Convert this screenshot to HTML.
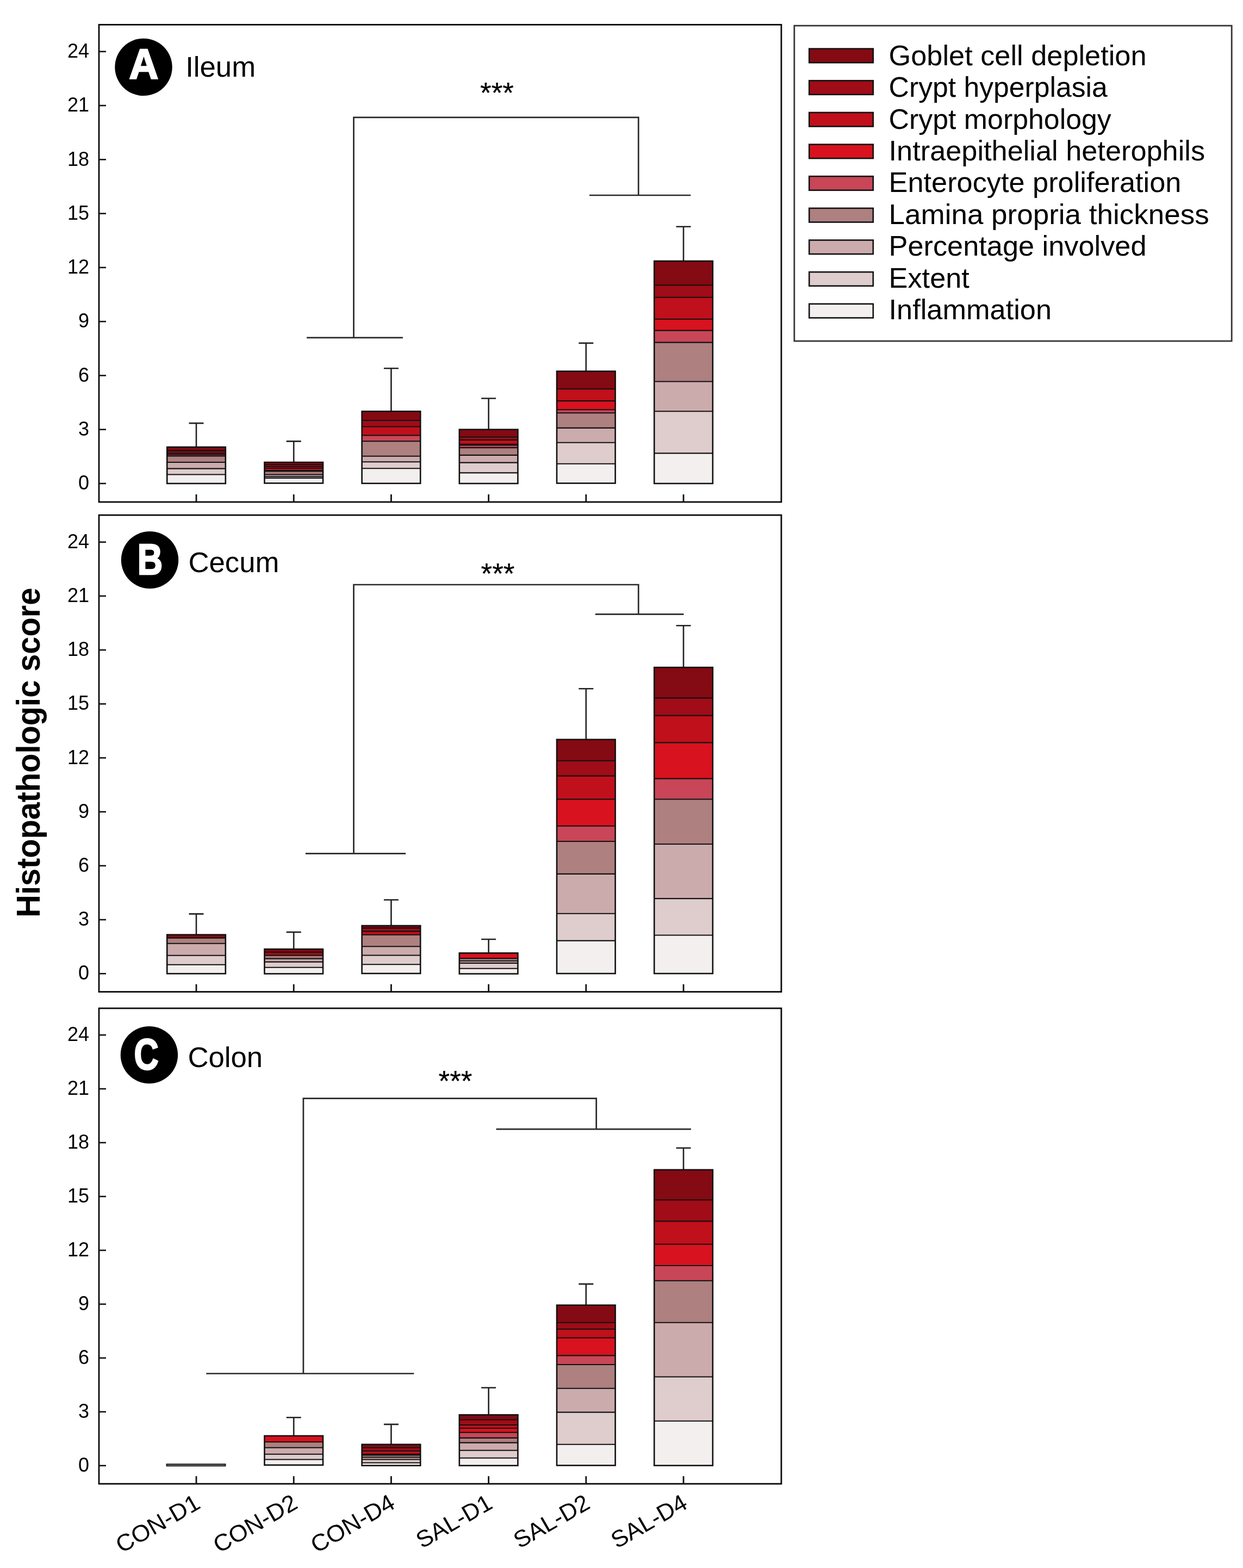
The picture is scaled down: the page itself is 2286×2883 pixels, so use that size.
<!DOCTYPE html>
<html lang="en"><head><meta charset="utf-8"><title>Histopathologic score</title>
<style>html,body{margin:0;padding:0;background:#fff;}body{width:2286px;height:2883px;overflow:hidden;}svg{display:block;}text{font-family:"Liberation Sans", Arial, sans-serif;}</style>
</head><body>
<svg width="2286" height="2883" viewBox="0 0 2286 2883">
<rect x="0" y="0" width="2286" height="2883" fill="#fff"/>
<g>
<path d="M361 822V778.1M347.5 778.1H374.5" stroke="#222" stroke-width="2.6" fill="none"/>
<rect x="307.2" y="872.5" width="107.6" height="16.5" fill="#f4efef"/>
<rect x="307.2" y="861.6" width="107.6" height="10.9" fill="#dfcccd"/>
<rect x="307.2" y="850" width="107.6" height="11.6" fill="#ccabac"/>
<rect x="307.2" y="838.4" width="107.6" height="11.6" fill="#ae8080"/>
<rect x="307.2" y="835.4" width="107.6" height="3" fill="#c84658"/>
<rect x="307.2" y="832.8" width="107.6" height="2.6" fill="#d8121f"/>
<rect x="307.2" y="829.1" width="107.6" height="3.7" fill="#c0101b"/>
<rect x="307.2" y="828.6" width="107.6" height="0.5" fill="#a00c17"/>
<rect x="307.2" y="822" width="107.6" height="6.6" fill="#840a13"/>
<path d="M307.2 872.5H414.8" stroke="#111" stroke-width="2.1"/>
<path d="M307.2 861.6H414.8" stroke="#111" stroke-width="2.1"/>
<path d="M307.2 850H414.8" stroke="#111" stroke-width="2.1"/>
<path d="M307.2 838.4H414.8" stroke="#111" stroke-width="2.1"/>
<path d="M307.2 835.4H414.8" stroke="#111" stroke-width="2.1"/>
<path d="M307.2 832.8H414.8" stroke="#111" stroke-width="2.1"/>
<path d="M307.2 829.1H414.8" stroke="#111" stroke-width="2.1"/>
<path d="M307.2 828.6H414.8" stroke="#111" stroke-width="2.1"/>
<rect x="307.2" y="822" width="107.6" height="67" fill="none" stroke="#111" stroke-width="2.6"/>
<path d="M540.2 850V811.4M526.7 811.4H553.7" stroke="#222" stroke-width="2.6" fill="none"/>
<rect x="486.4" y="879" width="107.6" height="9.4" fill="#f4efef"/>
<rect x="486.4" y="876.3" width="107.6" height="2.7" fill="#dfcccd"/>
<rect x="486.4" y="872.5" width="107.6" height="3.8" fill="#ccabac"/>
<rect x="486.4" y="866.5" width="107.6" height="6" fill="#ae8080"/>
<rect x="486.4" y="865" width="107.6" height="1.5" fill="#c84658"/>
<rect x="486.4" y="861" width="107.6" height="4" fill="#d8121f"/>
<rect x="486.4" y="858" width="107.6" height="3" fill="#c0101b"/>
<rect x="486.4" y="854.5" width="107.6" height="3.5" fill="#a00c17"/>
<rect x="486.4" y="850" width="107.6" height="4.5" fill="#840a13"/>
<path d="M486.4 879H594" stroke="#111" stroke-width="2.1"/>
<path d="M486.4 876.3H594" stroke="#111" stroke-width="2.1"/>
<path d="M486.4 872.5H594" stroke="#111" stroke-width="2.1"/>
<path d="M486.4 866.5H594" stroke="#111" stroke-width="2.1"/>
<path d="M486.4 865H594" stroke="#111" stroke-width="2.1"/>
<path d="M486.4 861H594" stroke="#111" stroke-width="2.1"/>
<path d="M486.4 858H594" stroke="#111" stroke-width="2.1"/>
<path d="M486.4 854.5H594" stroke="#111" stroke-width="2.1"/>
<rect x="486.4" y="850" width="107.6" height="38.4" fill="none" stroke="#111" stroke-width="2.6"/>
<path d="M719.4 756.3V677.3M705.9 677.3H732.9" stroke="#222" stroke-width="2.6" fill="none"/>
<rect x="665.6" y="861.3" width="107.6" height="27.5" fill="#f4efef"/>
<rect x="665.6" y="849.2" width="107.6" height="12.1" fill="#dfcccd"/>
<rect x="665.6" y="838.7" width="107.6" height="10.5" fill="#ccabac"/>
<rect x="665.6" y="811.2" width="107.6" height="27.5" fill="#ae8080"/>
<rect x="665.6" y="800.5" width="107.6" height="10.7" fill="#c84658"/>
<rect x="665.6" y="784.5" width="107.6" height="16" fill="#c0101b"/>
<rect x="665.6" y="773" width="107.6" height="11.5" fill="#a00c17"/>
<rect x="665.6" y="756.3" width="107.6" height="16.7" fill="#840a13"/>
<path d="M665.6 861.3H773.2" stroke="#111" stroke-width="2.1"/>
<path d="M665.6 849.2H773.2" stroke="#111" stroke-width="2.1"/>
<path d="M665.6 838.7H773.2" stroke="#111" stroke-width="2.1"/>
<path d="M665.6 811.2H773.2" stroke="#111" stroke-width="2.1"/>
<path d="M665.6 800.5H773.2" stroke="#111" stroke-width="2.1"/>
<path d="M665.6 784.5H773.2" stroke="#111" stroke-width="2.1"/>
<path d="M665.6 773H773.2" stroke="#111" stroke-width="2.1"/>
<rect x="665.6" y="756.3" width="107.6" height="132.5" fill="none" stroke="#111" stroke-width="2.6"/>
<path d="M898.6 789.7V732.5M885.1 732.5H912.1" stroke="#222" stroke-width="2.6" fill="none"/>
<rect x="844.8" y="869.4" width="107.6" height="19.6" fill="#f4efef"/>
<rect x="844.8" y="850.6" width="107.6" height="18.8" fill="#dfcccd"/>
<rect x="844.8" y="836.9" width="107.6" height="13.7" fill="#ccabac"/>
<rect x="844.8" y="823.1" width="107.6" height="13.8" fill="#ae8080"/>
<rect x="844.8" y="818.5" width="107.6" height="4.6" fill="#c84658"/>
<rect x="844.8" y="816.8" width="107.6" height="1.7" fill="#d8121f"/>
<rect x="844.8" y="808.9" width="107.6" height="7.9" fill="#c0101b"/>
<rect x="844.8" y="803.5" width="107.6" height="5.4" fill="#a00c17"/>
<rect x="844.8" y="789.7" width="107.6" height="13.8" fill="#840a13"/>
<path d="M844.8 869.4H952.4" stroke="#111" stroke-width="2.1"/>
<path d="M844.8 850.6H952.4" stroke="#111" stroke-width="2.1"/>
<path d="M844.8 836.9H952.4" stroke="#111" stroke-width="2.1"/>
<path d="M844.8 823.1H952.4" stroke="#111" stroke-width="2.1"/>
<path d="M844.8 818.5H952.4" stroke="#111" stroke-width="2.1"/>
<path d="M844.8 816.8H952.4" stroke="#111" stroke-width="2.1"/>
<path d="M844.8 808.9H952.4" stroke="#111" stroke-width="2.1"/>
<path d="M844.8 803.5H952.4" stroke="#111" stroke-width="2.1"/>
<rect x="844.8" y="789.7" width="107.6" height="99.3" fill="none" stroke="#111" stroke-width="2.6"/>
<path d="M1077.8 682.6V630.9M1064.3 630.9H1091.3" stroke="#222" stroke-width="2.6" fill="none"/>
<rect x="1024" y="852.8" width="107.6" height="35.7" fill="#f4efef"/>
<rect x="1024" y="813.8" width="107.6" height="39" fill="#dfcccd"/>
<rect x="1024" y="786.9" width="107.6" height="26.9" fill="#ccabac"/>
<rect x="1024" y="759.3" width="107.6" height="27.6" fill="#ae8080"/>
<rect x="1024" y="753.3" width="107.6" height="6" fill="#c84658"/>
<rect x="1024" y="737.1" width="107.6" height="16.2" fill="#d8121f"/>
<rect x="1024" y="715.3" width="107.6" height="21.8" fill="#c0101b"/>
<rect x="1024" y="682.6" width="107.6" height="32.7" fill="#840a13"/>
<path d="M1024 852.8H1131.6" stroke="#111" stroke-width="2.1"/>
<path d="M1024 813.8H1131.6" stroke="#111" stroke-width="2.1"/>
<path d="M1024 786.9H1131.6" stroke="#111" stroke-width="2.1"/>
<path d="M1024 759.3H1131.6" stroke="#111" stroke-width="2.1"/>
<path d="M1024 753.3H1131.6" stroke="#111" stroke-width="2.1"/>
<path d="M1024 737.1H1131.6" stroke="#111" stroke-width="2.1"/>
<path d="M1024 715.3H1131.6" stroke="#111" stroke-width="2.1"/>
<rect x="1024" y="682.6" width="107.6" height="205.9" fill="none" stroke="#111" stroke-width="2.6"/>
<path d="M1257 480V416.8M1243.5 416.8H1270.5" stroke="#222" stroke-width="2.6" fill="none"/>
<rect x="1203.2" y="833.4" width="107.6" height="55.6" fill="#f4efef"/>
<rect x="1203.2" y="756.3" width="107.6" height="77.1" fill="#dfcccd"/>
<rect x="1203.2" y="701.5" width="107.6" height="54.8" fill="#ccabac"/>
<rect x="1203.2" y="629.6" width="107.6" height="71.9" fill="#ae8080"/>
<rect x="1203.2" y="607.6" width="107.6" height="22" fill="#c84658"/>
<rect x="1203.2" y="586.7" width="107.6" height="20.9" fill="#d8121f"/>
<rect x="1203.2" y="546.7" width="107.6" height="40" fill="#c0101b"/>
<rect x="1203.2" y="524.3" width="107.6" height="22.4" fill="#a00c17"/>
<rect x="1203.2" y="480" width="107.6" height="44.3" fill="#840a13"/>
<path d="M1203.2 833.4H1310.8" stroke="#111" stroke-width="2.1"/>
<path d="M1203.2 756.3H1310.8" stroke="#111" stroke-width="2.1"/>
<path d="M1203.2 701.5H1310.8" stroke="#111" stroke-width="2.1"/>
<path d="M1203.2 629.6H1310.8" stroke="#111" stroke-width="2.1"/>
<path d="M1203.2 607.6H1310.8" stroke="#111" stroke-width="2.1"/>
<path d="M1203.2 586.7H1310.8" stroke="#111" stroke-width="2.1"/>
<path d="M1203.2 546.7H1310.8" stroke="#111" stroke-width="2.1"/>
<path d="M1203.2 524.3H1310.8" stroke="#111" stroke-width="2.1"/>
<rect x="1203.2" y="480" width="107.6" height="409" fill="none" stroke="#111" stroke-width="2.6"/>
<rect x="182" y="45.4" width="1254.9" height="877.6" fill="none" stroke="#0a0a0a" stroke-width="2.8"/>
<path d="M182 889H195" stroke="#111" stroke-width="2.6"/>
<text x="164" y="900.2" font-size="36" text-anchor="end" fill="#000">0</text>
<path d="M182 789.73H195" stroke="#111" stroke-width="2.6"/>
<text x="164" y="800.93" font-size="36" text-anchor="end" fill="#000">3</text>
<path d="M182 690.45H195" stroke="#111" stroke-width="2.6"/>
<text x="164" y="701.65" font-size="36" text-anchor="end" fill="#000">6</text>
<path d="M182 591.17H195" stroke="#111" stroke-width="2.6"/>
<text x="164" y="602.38" font-size="36" text-anchor="end" fill="#000">9</text>
<path d="M182 491.9H195" stroke="#111" stroke-width="2.6"/>
<text x="164" y="503.1" font-size="36" text-anchor="end" fill="#000">12</text>
<path d="M182 392.62H195" stroke="#111" stroke-width="2.6"/>
<text x="164" y="403.82" font-size="36" text-anchor="end" fill="#000">15</text>
<path d="M182 293.35H195" stroke="#111" stroke-width="2.6"/>
<text x="164" y="304.55" font-size="36" text-anchor="end" fill="#000">18</text>
<path d="M182 194.07H195" stroke="#111" stroke-width="2.6"/>
<text x="164" y="205.27" font-size="36" text-anchor="end" fill="#000">21</text>
<path d="M182 94.8H195" stroke="#111" stroke-width="2.6"/>
<text x="164" y="106" font-size="36" text-anchor="end" fill="#000">24</text>
<path d="M361 923V909" stroke="#111" stroke-width="2.8"/>
<path d="M540.2 923V909" stroke="#111" stroke-width="2.8"/>
<path d="M719.4 923V909" stroke="#111" stroke-width="2.8"/>
<path d="M898.6 923V909" stroke="#111" stroke-width="2.8"/>
<path d="M1077.8 923V909" stroke="#111" stroke-width="2.8"/>
<path d="M1257 923V909" stroke="#111" stroke-width="2.8"/>
<circle cx="264" cy="123.4" r="52.7" fill="#000"/>
<text transform="translate(264.5 144.8) scale(0.95 1)" x="0" y="0" font-size="78.4" font-weight="bold" text-anchor="middle" fill="#fff" stroke="#fff" stroke-width="2.6" stroke-linejoin="miter">A</text>
<text x="341.2" y="141.1" font-size="52.7" fill="#000">Ileum</text>
<path d="M650.5 620.9V215.8H1174.2V359 M564.1 620.9H740.9 M1083.9 359H1270.3" stroke="#282828" stroke-width="2.7" fill="none"/>
<text x="914" y="188.5" font-size="53" text-anchor="middle" fill="#000" stroke="#000" stroke-width="0.25">***</text>
</g>
<g>
<path d="M361 1718.6V1680.4M347.5 1680.4H374.5" stroke="#222" stroke-width="2.6" fill="none"/>
<rect x="307.2" y="1773.7" width="107.6" height="16.5" fill="#f4efef"/>
<rect x="307.2" y="1756.8" width="107.6" height="16.9" fill="#dfcccd"/>
<rect x="307.2" y="1734.7" width="107.6" height="22.1" fill="#ccabac"/>
<rect x="307.2" y="1724.6" width="107.6" height="10.1" fill="#ae8080"/>
<rect x="307.2" y="1718.6" width="107.6" height="6" fill="#840a13"/>
<path d="M307.2 1773.7H414.8" stroke="#111" stroke-width="2.1"/>
<path d="M307.2 1756.8H414.8" stroke="#111" stroke-width="2.1"/>
<path d="M307.2 1734.7H414.8" stroke="#111" stroke-width="2.1"/>
<path d="M307.2 1724.6H414.8" stroke="#111" stroke-width="2.1"/>
<rect x="307.2" y="1718.6" width="107.6" height="71.6" fill="none" stroke="#111" stroke-width="2.6"/>
<path d="M540.2 1745.1V1713.9M526.7 1713.9H553.7" stroke="#222" stroke-width="2.6" fill="none"/>
<rect x="486.4" y="1778.8" width="107.6" height="11.6" fill="#f4efef"/>
<rect x="486.4" y="1768.6" width="107.6" height="10.2" fill="#dfcccd"/>
<rect x="486.4" y="1762.6" width="107.6" height="6" fill="#ccabac"/>
<rect x="486.4" y="1756.7" width="107.6" height="5.9" fill="#ae8080"/>
<rect x="486.4" y="1750.7" width="107.6" height="6" fill="#a00c17"/>
<rect x="486.4" y="1745.1" width="107.6" height="5.6" fill="#840a13"/>
<path d="M486.4 1778.8H594" stroke="#111" stroke-width="2.1"/>
<path d="M486.4 1768.6H594" stroke="#111" stroke-width="2.1"/>
<path d="M486.4 1762.6H594" stroke="#111" stroke-width="2.1"/>
<path d="M486.4 1756.7H594" stroke="#111" stroke-width="2.1"/>
<path d="M486.4 1750.7H594" stroke="#111" stroke-width="2.1"/>
<rect x="486.4" y="1745.1" width="107.6" height="45.3" fill="none" stroke="#111" stroke-width="2.6"/>
<path d="M719.4 1702V1654.5M705.9 1654.5H732.9" stroke="#222" stroke-width="2.6" fill="none"/>
<rect x="665.6" y="1773.2" width="107.6" height="16.7" fill="#f4efef"/>
<rect x="665.6" y="1756.5" width="107.6" height="16.7" fill="#dfcccd"/>
<rect x="665.6" y="1740.2" width="107.6" height="16.3" fill="#ccabac"/>
<rect x="665.6" y="1718.7" width="107.6" height="21.5" fill="#ae8080"/>
<rect x="665.6" y="1712.4" width="107.6" height="6.3" fill="#c0101b"/>
<rect x="665.6" y="1706.4" width="107.6" height="6" fill="#a00c17"/>
<rect x="665.6" y="1702" width="107.6" height="4.4" fill="#840a13"/>
<path d="M665.6 1773.2H773.2" stroke="#111" stroke-width="2.1"/>
<path d="M665.6 1756.5H773.2" stroke="#111" stroke-width="2.1"/>
<path d="M665.6 1740.2H773.2" stroke="#111" stroke-width="2.1"/>
<path d="M665.6 1718.7H773.2" stroke="#111" stroke-width="2.1"/>
<path d="M665.6 1712.4H773.2" stroke="#111" stroke-width="2.1"/>
<path d="M665.6 1706.4H773.2" stroke="#111" stroke-width="2.1"/>
<rect x="665.6" y="1702" width="107.6" height="87.9" fill="none" stroke="#111" stroke-width="2.6"/>
<path d="M898.6 1752.3V1727M885.1 1727H912.1" stroke="#222" stroke-width="2.6" fill="none"/>
<rect x="844.8" y="1780.7" width="107.6" height="9.8" fill="#f4efef"/>
<rect x="844.8" y="1770.9" width="107.6" height="9.8" fill="#dfcccd"/>
<rect x="844.8" y="1766.7" width="107.6" height="4.2" fill="#ccabac"/>
<rect x="844.8" y="1762.1" width="107.6" height="4.6" fill="#ae8080"/>
<rect x="844.8" y="1752.3" width="107.6" height="9.8" fill="#d8121f"/>
<path d="M844.8 1780.7H952.4" stroke="#111" stroke-width="2.1"/>
<path d="M844.8 1770.9H952.4" stroke="#111" stroke-width="2.1"/>
<path d="M844.8 1766.7H952.4" stroke="#111" stroke-width="2.1"/>
<path d="M844.8 1762.1H952.4" stroke="#111" stroke-width="2.1"/>
<path d="M844.8 1752.3H952.4" stroke="#111" stroke-width="2.1"/>
<rect x="844.8" y="1752.3" width="107.6" height="38.2" fill="none" stroke="#111" stroke-width="2.6"/>
<path d="M1077.8 1359.7V1266.2M1064.3 1266.2H1091.3" stroke="#222" stroke-width="2.6" fill="none"/>
<rect x="1024" y="1729.6" width="107.6" height="60.4" fill="#f4efef"/>
<rect x="1024" y="1679.8" width="107.6" height="49.8" fill="#dfcccd"/>
<rect x="1024" y="1606.9" width="107.6" height="72.9" fill="#ccabac"/>
<rect x="1024" y="1547" width="107.6" height="59.9" fill="#ae8080"/>
<rect x="1024" y="1518.7" width="107.6" height="28.3" fill="#c84658"/>
<rect x="1024" y="1469.5" width="107.6" height="49.2" fill="#d8121f"/>
<rect x="1024" y="1426.6" width="107.6" height="42.9" fill="#c0101b"/>
<rect x="1024" y="1398.7" width="107.6" height="27.9" fill="#a00c17"/>
<rect x="1024" y="1359.7" width="107.6" height="39" fill="#840a13"/>
<path d="M1024 1729.6H1131.6" stroke="#111" stroke-width="2.1"/>
<path d="M1024 1679.8H1131.6" stroke="#111" stroke-width="2.1"/>
<path d="M1024 1606.9H1131.6" stroke="#111" stroke-width="2.1"/>
<path d="M1024 1547H1131.6" stroke="#111" stroke-width="2.1"/>
<path d="M1024 1518.7H1131.6" stroke="#111" stroke-width="2.1"/>
<path d="M1024 1469.5H1131.6" stroke="#111" stroke-width="2.1"/>
<path d="M1024 1426.6H1131.6" stroke="#111" stroke-width="2.1"/>
<path d="M1024 1398.7H1131.6" stroke="#111" stroke-width="2.1"/>
<rect x="1024" y="1359.7" width="107.6" height="430.3" fill="none" stroke="#111" stroke-width="2.6"/>
<path d="M1257 1227.1V1150.3M1243.5 1150.3H1270.5" stroke="#222" stroke-width="2.6" fill="none"/>
<rect x="1203.2" y="1719.5" width="107.6" height="70.5" fill="#f4efef"/>
<rect x="1203.2" y="1652.1" width="107.6" height="67.4" fill="#dfcccd"/>
<rect x="1203.2" y="1552" width="107.6" height="100.1" fill="#ccabac"/>
<rect x="1203.2" y="1469.5" width="107.6" height="82.5" fill="#ae8080"/>
<rect x="1203.2" y="1431.6" width="107.6" height="37.9" fill="#c84658"/>
<rect x="1203.2" y="1365.4" width="107.6" height="66.2" fill="#d8121f"/>
<rect x="1203.2" y="1315.6" width="107.6" height="49.8" fill="#c0101b"/>
<rect x="1203.2" y="1283.4" width="107.6" height="32.2" fill="#a00c17"/>
<rect x="1203.2" y="1227.1" width="107.6" height="56.3" fill="#840a13"/>
<path d="M1203.2 1719.5H1310.8" stroke="#111" stroke-width="2.1"/>
<path d="M1203.2 1652.1H1310.8" stroke="#111" stroke-width="2.1"/>
<path d="M1203.2 1552H1310.8" stroke="#111" stroke-width="2.1"/>
<path d="M1203.2 1469.5H1310.8" stroke="#111" stroke-width="2.1"/>
<path d="M1203.2 1431.6H1310.8" stroke="#111" stroke-width="2.1"/>
<path d="M1203.2 1365.4H1310.8" stroke="#111" stroke-width="2.1"/>
<path d="M1203.2 1315.6H1310.8" stroke="#111" stroke-width="2.1"/>
<path d="M1203.2 1283.4H1310.8" stroke="#111" stroke-width="2.1"/>
<rect x="1203.2" y="1227.1" width="107.6" height="562.9" fill="none" stroke="#111" stroke-width="2.6"/>
<rect x="182" y="947.1" width="1254.9" height="876.5" fill="none" stroke="#0a0a0a" stroke-width="2.8"/>
<path d="M182 1790.2H195" stroke="#111" stroke-width="2.6"/>
<text x="164" y="1801.4" font-size="36" text-anchor="end" fill="#000">0</text>
<path d="M182 1691.01H195" stroke="#111" stroke-width="2.6"/>
<text x="164" y="1702.21" font-size="36" text-anchor="end" fill="#000">3</text>
<path d="M182 1591.83H195" stroke="#111" stroke-width="2.6"/>
<text x="164" y="1603.03" font-size="36" text-anchor="end" fill="#000">6</text>
<path d="M182 1492.64H195" stroke="#111" stroke-width="2.6"/>
<text x="164" y="1503.84" font-size="36" text-anchor="end" fill="#000">9</text>
<path d="M182 1393.45H195" stroke="#111" stroke-width="2.6"/>
<text x="164" y="1404.65" font-size="36" text-anchor="end" fill="#000">12</text>
<path d="M182 1294.26H195" stroke="#111" stroke-width="2.6"/>
<text x="164" y="1305.46" font-size="36" text-anchor="end" fill="#000">15</text>
<path d="M182 1195.08H195" stroke="#111" stroke-width="2.6"/>
<text x="164" y="1206.28" font-size="36" text-anchor="end" fill="#000">18</text>
<path d="M182 1095.89H195" stroke="#111" stroke-width="2.6"/>
<text x="164" y="1107.09" font-size="36" text-anchor="end" fill="#000">21</text>
<path d="M182 996.7H195" stroke="#111" stroke-width="2.6"/>
<text x="164" y="1007.9" font-size="36" text-anchor="end" fill="#000">24</text>
<path d="M361 1823.6V1809.6" stroke="#111" stroke-width="2.8"/>
<path d="M540.2 1823.6V1809.6" stroke="#111" stroke-width="2.8"/>
<path d="M719.4 1823.6V1809.6" stroke="#111" stroke-width="2.8"/>
<path d="M898.6 1823.6V1809.6" stroke="#111" stroke-width="2.8"/>
<path d="M1077.8 1823.6V1809.6" stroke="#111" stroke-width="2.8"/>
<path d="M1257 1823.6V1809.6" stroke="#111" stroke-width="2.8"/>
<circle cx="275.5" cy="1029.6" r="52.7" fill="#000"/>
<text transform="translate(276 1056.1) scale(0.8 1)" x="0" y="0" font-size="80.3" font-weight="bold" text-anchor="middle" fill="#fff" stroke="#fff" stroke-width="2.6" stroke-linejoin="miter">B</text>
<text x="346.5" y="1052.4" font-size="52.7" fill="#000">Cecum</text>
<path d="M650.5 1569.3V1075H1174.2V1129.4 M561.9 1569.3H746.1 M1094.8 1129.4H1257.5" stroke="#282828" stroke-width="2.7" fill="none"/>
<text x="915.5" y="1072.6" font-size="53" text-anchor="middle" fill="#000" stroke="#000" stroke-width="0.25">***</text>
</g>
<g>
<rect x="306.4" y="2692" width="108.2" height="3.4" fill="#7a7a7a" stroke="#111" stroke-width="1.7"/>
<path d="M540.2 2640V2606.3M526.7 2606.3H553.7" stroke="#222" stroke-width="2.6" fill="none"/>
<rect x="486.4" y="2683.5" width="107.6" height="10.2" fill="#f4efef"/>
<rect x="486.4" y="2673.7" width="107.6" height="9.8" fill="#dfcccd"/>
<rect x="486.4" y="2661.8" width="107.6" height="11.9" fill="#ccabac"/>
<rect x="486.4" y="2651.2" width="107.6" height="10.6" fill="#ae8080"/>
<rect x="486.4" y="2640" width="107.6" height="11.2" fill="#d8121f"/>
<path d="M486.4 2683.5H594" stroke="#111" stroke-width="2.1"/>
<path d="M486.4 2673.7H594" stroke="#111" stroke-width="2.1"/>
<path d="M486.4 2661.8H594" stroke="#111" stroke-width="2.1"/>
<path d="M486.4 2651.2H594" stroke="#111" stroke-width="2.1"/>
<path d="M486.4 2640H594" stroke="#111" stroke-width="2.1"/>
<rect x="486.4" y="2640" width="107.6" height="53.7" fill="none" stroke="#111" stroke-width="2.6"/>
<path d="M719.4 2655.8V2618.9M705.9 2618.9H732.9" stroke="#222" stroke-width="2.6" fill="none"/>
<rect x="665.6" y="2689.5" width="107.6" height="5.2" fill="#f4efef"/>
<rect x="665.6" y="2683.5" width="107.6" height="6" fill="#dfcccd"/>
<rect x="665.6" y="2679.5" width="107.6" height="4" fill="#ccabac"/>
<rect x="665.6" y="2675.5" width="107.6" height="4" fill="#ae8080"/>
<rect x="665.6" y="2674.5" width="107.6" height="1" fill="#c84658"/>
<rect x="665.6" y="2673.7" width="107.6" height="0.8" fill="#d8121f"/>
<rect x="665.6" y="2667.7" width="107.6" height="6" fill="#c0101b"/>
<rect x="665.6" y="2661.8" width="107.6" height="5.9" fill="#a00c17"/>
<rect x="665.6" y="2655.8" width="107.6" height="6" fill="#840a13"/>
<path d="M665.6 2689.5H773.2" stroke="#111" stroke-width="2.1"/>
<path d="M665.6 2683.5H773.2" stroke="#111" stroke-width="2.1"/>
<path d="M665.6 2679.5H773.2" stroke="#111" stroke-width="2.1"/>
<path d="M665.6 2675.5H773.2" stroke="#111" stroke-width="2.1"/>
<path d="M665.6 2674.5H773.2" stroke="#111" stroke-width="2.1"/>
<path d="M665.6 2673.7H773.2" stroke="#111" stroke-width="2.1"/>
<path d="M665.6 2667.7H773.2" stroke="#111" stroke-width="2.1"/>
<path d="M665.6 2661.8H773.2" stroke="#111" stroke-width="2.1"/>
<rect x="665.6" y="2655.8" width="107.6" height="38.9" fill="none" stroke="#111" stroke-width="2.6"/>
<path d="M898.6 2601.4V2551.5M885.1 2551.5H912.1" stroke="#222" stroke-width="2.6" fill="none"/>
<rect x="844.8" y="2680.7" width="107.6" height="14" fill="#f4efef"/>
<rect x="844.8" y="2666.7" width="107.6" height="14" fill="#dfcccd"/>
<rect x="844.8" y="2652.6" width="107.6" height="14.1" fill="#ccabac"/>
<rect x="844.8" y="2643.9" width="107.6" height="8.7" fill="#ae8080"/>
<rect x="844.8" y="2633.7" width="107.6" height="10.2" fill="#c84658"/>
<rect x="844.8" y="2626" width="107.6" height="7.7" fill="#d8121f"/>
<rect x="844.8" y="2620" width="107.6" height="6" fill="#c0101b"/>
<rect x="844.8" y="2610.5" width="107.6" height="9.5" fill="#a00c17"/>
<rect x="844.8" y="2601.4" width="107.6" height="9.1" fill="#840a13"/>
<path d="M844.8 2680.7H952.4" stroke="#111" stroke-width="2.1"/>
<path d="M844.8 2666.7H952.4" stroke="#111" stroke-width="2.1"/>
<path d="M844.8 2652.6H952.4" stroke="#111" stroke-width="2.1"/>
<path d="M844.8 2643.9H952.4" stroke="#111" stroke-width="2.1"/>
<path d="M844.8 2633.7H952.4" stroke="#111" stroke-width="2.1"/>
<path d="M844.8 2626H952.4" stroke="#111" stroke-width="2.1"/>
<path d="M844.8 2620H952.4" stroke="#111" stroke-width="2.1"/>
<path d="M844.8 2610.5H952.4" stroke="#111" stroke-width="2.1"/>
<rect x="844.8" y="2601.4" width="107.6" height="93.3" fill="none" stroke="#111" stroke-width="2.6"/>
<path d="M1077.8 2399.7V2360.9M1064.3 2360.9H1091.3" stroke="#222" stroke-width="2.6" fill="none"/>
<rect x="1024" y="2655.8" width="107.6" height="38.6" fill="#f4efef"/>
<rect x="1024" y="2596.6" width="107.6" height="59.2" fill="#dfcccd"/>
<rect x="1024" y="2552.8" width="107.6" height="43.8" fill="#ccabac"/>
<rect x="1024" y="2509" width="107.6" height="43.8" fill="#ae8080"/>
<rect x="1024" y="2492.4" width="107.6" height="16.6" fill="#c84658"/>
<rect x="1024" y="2459.8" width="107.6" height="32.6" fill="#d8121f"/>
<rect x="1024" y="2443.8" width="107.6" height="16" fill="#c0101b"/>
<rect x="1024" y="2431.8" width="107.6" height="12" fill="#a00c17"/>
<rect x="1024" y="2399.7" width="107.6" height="32.1" fill="#840a13"/>
<path d="M1024 2655.8H1131.6" stroke="#111" stroke-width="2.1"/>
<path d="M1024 2596.6H1131.6" stroke="#111" stroke-width="2.1"/>
<path d="M1024 2552.8H1131.6" stroke="#111" stroke-width="2.1"/>
<path d="M1024 2509H1131.6" stroke="#111" stroke-width="2.1"/>
<path d="M1024 2492.4H1131.6" stroke="#111" stroke-width="2.1"/>
<path d="M1024 2459.8H1131.6" stroke="#111" stroke-width="2.1"/>
<path d="M1024 2443.8H1131.6" stroke="#111" stroke-width="2.1"/>
<path d="M1024 2431.8H1131.6" stroke="#111" stroke-width="2.1"/>
<rect x="1024" y="2399.7" width="107.6" height="294.7" fill="none" stroke="#111" stroke-width="2.6"/>
<path d="M1257 2150.8V2110.7M1243.5 2110.7H1270.5" stroke="#222" stroke-width="2.6" fill="none"/>
<rect x="1203.2" y="2612.7" width="107.6" height="81.9" fill="#f4efef"/>
<rect x="1203.2" y="2531.5" width="107.6" height="81.2" fill="#dfcccd"/>
<rect x="1203.2" y="2431.7" width="107.6" height="99.8" fill="#ccabac"/>
<rect x="1203.2" y="2354.8" width="107.6" height="76.9" fill="#ae8080"/>
<rect x="1203.2" y="2327" width="107.6" height="27.8" fill="#c84658"/>
<rect x="1203.2" y="2287.8" width="107.6" height="39.2" fill="#d8121f"/>
<rect x="1203.2" y="2245.4" width="107.6" height="42.4" fill="#c0101b"/>
<rect x="1203.2" y="2206.3" width="107.6" height="39.1" fill="#a00c17"/>
<rect x="1203.2" y="2150.8" width="107.6" height="55.5" fill="#840a13"/>
<path d="M1203.2 2612.7H1310.8" stroke="#111" stroke-width="2.1"/>
<path d="M1203.2 2531.5H1310.8" stroke="#111" stroke-width="2.1"/>
<path d="M1203.2 2431.7H1310.8" stroke="#111" stroke-width="2.1"/>
<path d="M1203.2 2354.8H1310.8" stroke="#111" stroke-width="2.1"/>
<path d="M1203.2 2327H1310.8" stroke="#111" stroke-width="2.1"/>
<path d="M1203.2 2287.8H1310.8" stroke="#111" stroke-width="2.1"/>
<path d="M1203.2 2245.4H1310.8" stroke="#111" stroke-width="2.1"/>
<path d="M1203.2 2206.3H1310.8" stroke="#111" stroke-width="2.1"/>
<rect x="1203.2" y="2150.8" width="107.6" height="543.8" fill="none" stroke="#111" stroke-width="2.6"/>
<rect x="182" y="1853.9" width="1254.9" height="874.3" fill="none" stroke="#0a0a0a" stroke-width="2.8"/>
<path d="M182 2694.8H195" stroke="#111" stroke-width="2.6"/>
<text x="164" y="2706" font-size="36" text-anchor="end" fill="#000">0</text>
<path d="M182 2595.83H195" stroke="#111" stroke-width="2.6"/>
<text x="164" y="2607.03" font-size="36" text-anchor="end" fill="#000">3</text>
<path d="M182 2496.85H195" stroke="#111" stroke-width="2.6"/>
<text x="164" y="2508.05" font-size="36" text-anchor="end" fill="#000">6</text>
<path d="M182 2397.88H195" stroke="#111" stroke-width="2.6"/>
<text x="164" y="2409.07" font-size="36" text-anchor="end" fill="#000">9</text>
<path d="M182 2298.9H195" stroke="#111" stroke-width="2.6"/>
<text x="164" y="2310.1" font-size="36" text-anchor="end" fill="#000">12</text>
<path d="M182 2199.93H195" stroke="#111" stroke-width="2.6"/>
<text x="164" y="2211.12" font-size="36" text-anchor="end" fill="#000">15</text>
<path d="M182 2100.95H195" stroke="#111" stroke-width="2.6"/>
<text x="164" y="2112.15" font-size="36" text-anchor="end" fill="#000">18</text>
<path d="M182 2001.97H195" stroke="#111" stroke-width="2.6"/>
<text x="164" y="2013.17" font-size="36" text-anchor="end" fill="#000">21</text>
<path d="M182 1903H195" stroke="#111" stroke-width="2.6"/>
<text x="164" y="1914.2" font-size="36" text-anchor="end" fill="#000">24</text>
<path d="M361 2728.2V2714.2" stroke="#111" stroke-width="2.8"/>
<path d="M540.2 2728.2V2714.2" stroke="#111" stroke-width="2.8"/>
<path d="M719.4 2728.2V2714.2" stroke="#111" stroke-width="2.8"/>
<path d="M898.6 2728.2V2714.2" stroke="#111" stroke-width="2.8"/>
<path d="M1077.8 2728.2V2714.2" stroke="#111" stroke-width="2.8"/>
<path d="M1257 2728.2V2714.2" stroke="#111" stroke-width="2.8"/>
<circle cx="274.4" cy="1939.6" r="52.7" fill="#000"/>
<text transform="translate(269.1 1966.1) scale(0.78 1)" x="0" y="0" font-size="80.2" font-weight="bold" text-anchor="middle" fill="#fff" stroke="#fff" stroke-width="2.6" stroke-linejoin="miter">C</text>
<text x="345.5" y="1962.4" font-size="52.7" fill="#000">Colon</text>
<path d="M557.9 2525.5V2019.7H1096.7V2076.1 M379.2 2525.5H761.3 M912.5 2076.1H1270.9" stroke="#282828" stroke-width="2.7" fill="none"/>
<text x="837.5" y="2006.2" font-size="53" text-anchor="middle" fill="#000" stroke="#000" stroke-width="0.25">***</text>
</g>
<rect x="1460.8" y="47.2" width="804.4" height="579.9" fill="none" stroke="#363636" stroke-width="2.8"/>
<rect x="1488.2" y="89.6" width="117.6" height="25.6" fill="#840a13" stroke="#111" stroke-width="2.6"/>
<text x="1634.6" y="119.6" font-size="52.3" fill="#000">Goblet cell depletion</text>
<rect x="1488.2" y="148.25" width="117.6" height="25.6" fill="#a00c17" stroke="#111" stroke-width="2.6"/>
<text x="1634.6" y="178.05" font-size="52.3" fill="#000" textLength="402.2" lengthAdjust="spacingAndGlyphs">Crypt hyperplasia</text>
<rect x="1488.2" y="206.9" width="117.6" height="25.6" fill="#c0101b" stroke="#111" stroke-width="2.6"/>
<text x="1634.6" y="236.5" font-size="52.3" fill="#000" textLength="409.2" lengthAdjust="spacingAndGlyphs">Crypt morphology</text>
<rect x="1488.2" y="265.55" width="117.6" height="25.6" fill="#d8121f" stroke="#111" stroke-width="2.6"/>
<text x="1634.6" y="294.95" font-size="52.3" fill="#000">Intraepithelial heterophils</text>
<rect x="1488.2" y="324.2" width="117.6" height="25.6" fill="#c84658" stroke="#111" stroke-width="2.6"/>
<text x="1634.6" y="353.4" font-size="52.3" fill="#000">Enterocyte proliferation</text>
<rect x="1488.2" y="382.85" width="117.6" height="25.6" fill="#ae8080" stroke="#111" stroke-width="2.6"/>
<text x="1634.6" y="411.85" font-size="52.3" fill="#000" textLength="589.1" lengthAdjust="spacingAndGlyphs">Lamina propria thickness</text>
<rect x="1488.2" y="441.5" width="117.6" height="25.6" fill="#ccabac" stroke="#111" stroke-width="2.6"/>
<text x="1634.6" y="470.3" font-size="52.3" fill="#000">Percentage involved</text>
<rect x="1488.2" y="500.15" width="117.6" height="25.6" fill="#dfcccd" stroke="#111" stroke-width="2.6"/>
<text x="1634.6" y="528.75" font-size="52.3" fill="#000">Extent</text>
<rect x="1488.2" y="558.8" width="117.6" height="25.6" fill="#f4efef" stroke="#111" stroke-width="2.6"/>
<text x="1634.6" y="587.2" font-size="52.3" fill="#000">Inflammation</text>
<text transform="translate(73.2 1383.75) rotate(-90)" x="0" y="0" font-size="61" font-weight="bold" text-anchor="middle" textLength="606" lengthAdjust="spacingAndGlyphs" fill="#000">Histopathologic score</text>
<text transform="translate(371 2771.5) rotate(-30)" x="0" y="0" font-size="43" text-anchor="end" textLength="170" lengthAdjust="spacingAndGlyphs" fill="#000">CON-D1</text>
<text transform="translate(550.2 2771.5) rotate(-30)" x="0" y="0" font-size="43" text-anchor="end" textLength="170" lengthAdjust="spacingAndGlyphs" fill="#000">CON-D2</text>
<text transform="translate(729.4 2771.5) rotate(-30)" x="0" y="0" font-size="43" text-anchor="end" textLength="170" lengthAdjust="spacingAndGlyphs" fill="#000">CON-D4</text>
<text transform="translate(908.6 2771.5) rotate(-30)" x="0" y="0" font-size="43" text-anchor="end" textLength="153" lengthAdjust="spacingAndGlyphs" fill="#000">SAL-D1</text>
<text transform="translate(1087.8 2771.5) rotate(-30)" x="0" y="0" font-size="43" text-anchor="end" textLength="153" lengthAdjust="spacingAndGlyphs" fill="#000">SAL-D2</text>
<text transform="translate(1267 2771.5) rotate(-30)" x="0" y="0" font-size="43" text-anchor="end" textLength="153" lengthAdjust="spacingAndGlyphs" fill="#000">SAL-D4</text>
</svg>
</body></html>
